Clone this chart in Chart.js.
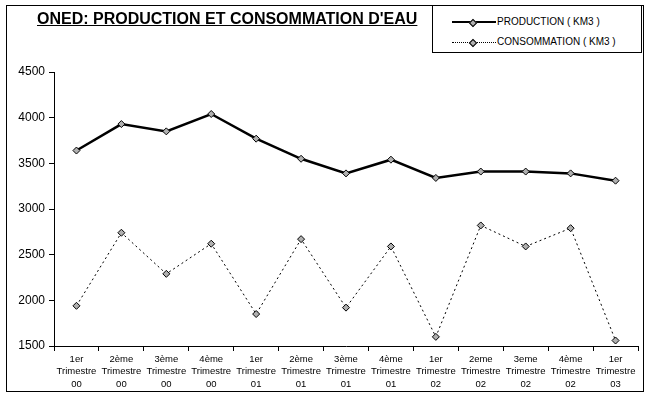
<!DOCTYPE html>
<html>
<head>
<meta charset="utf-8">
<script src="https://cdn.jsdelivr.net/npm/chart.js@4/dist/chart.umd.min.js"></script>
<style>
  html, body { margin: 0; padding: 0; background: #fff; }
  body { width: 649px; height: 396px; position: relative; overflow: hidden;
         font-family: 'Liberation Sans', Arial, sans-serif; }
  #frame { position: absolute; left: 6px; top: 5px; width: 636px; height: 385px; border: 1px solid #000; }
  #title { position: absolute; left: 37px; top: 10px; font-size: 16px; font-weight: bold;
           text-decoration: underline; white-space: nowrap; }
  #legend { position: absolute; left: 432px; top: 5px; width: 208px; height: 46px;
            border: 1px solid #000; background: #fff; font-size: 10px; }
  .row { position: absolute; left: 19px; height: 12px; white-space: nowrap; }
  .row span.txt { position: absolute; left: 45px; top: 0; line-height: 12px; }
  .sample { position: absolute; left: 0; top: 6px; width: 44px; }
  .sample.solid { border-top: 2px solid #000; top: 5px; }
  .sample.dotted { border-top: 1px dotted #000; }
  .mk { position: absolute; left: 18px; top: 4px; width: 4px; height: 4px; background: #b0b0b0;
        border: 1px solid #000; transform: rotate(45deg); }
  #wrap { position: absolute; left: 0; top: 0; width: 649px; height: 396px; }
</style>
</head>
<body>
<div id="frame"></div>
<div id="wrap"><canvas id="chart" width="649" height="396"></canvas></div>
<div id="title">ONED: PRODUCTION ET CONSOMMATION D'EAU</div>
<div id="legend">
  <div class="row" style="top:10px"><div class="sample solid"></div><div class="mk"></div><span class="txt">PRODUCTION ( KM3 )</span></div>
  <div class="row" style="top:30px"><div class="sample dotted"></div><div class="mk"></div><span class="txt">CONSOMMATION ( KM3 )</span></div>
</div>
<script>
// ── DATA ──
const QUARTERS = [
  ['1er', 'Trimestre', '00'], ['2ème', 'Trimestre', '00'], ['3ème', 'Trimestre', '00'], ['4ème', 'Trimestre', '00'],
  ['1er', 'Trimestre', '01'], ['2ème', 'Trimestre', '01'], ['3ème', 'Trimestre', '01'], ['4ème', 'Trimestre', '01'],
  ['1er', 'Trimestre', '02'], ['2eme', 'Trimestre', '02'], ['3eme', 'Trimestre', '02'], ['4ème', 'Trimestre', '02'],
  ['1er', 'Trimestre', '03']
];
const PRODUCTION = [3640, 3930, 3850, 4040, 3770, 3550, 3390, 3540, 3340, 3410, 3410, 3390, 3310];
const CONSOMMATION = [1940, 2740, 2290, 2620, 1850, 2670, 1920, 2590, 1600, 2820, 2590, 2790, 1560];
const Y_MIN = 1500, Y_MAX = 4500, Y_STEP = 500;

const FONT = "'Liberation Sans', Arial, sans-serif";

const marker = {
  pointStyle: 'rectRot',
  pointRadius: 3.5,
  pointBackgroundColor: '#b0b0b0',
  pointBorderColor: '#000',
  pointBorderWidth: 1,
};

new Chart(document.getElementById('chart'), {
  type: 'line',
  data: {
    labels: QUARTERS,
    datasets: [
      { label: 'PRODUCTION ( KM3 )', data: PRODUCTION, borderColor: '#000', borderWidth: 2.5, tension: 0, ...marker },
      { label: 'CONSOMMATION ( KM3 )', data: CONSOMMATION, borderColor: '#000', borderWidth: 1, borderDash: [2, 3], tension: 0, ...marker },
    ]
  },
  options: {
    responsive: false,
    animation: false,
    layout: { padding: { top: 72, right: 11, bottom: 0, left: 0 } },
    plugins: { legend: { display: false }, tooltip: { enabled: false } },
    scales: {
      x: {
        offset: true,
        grid: { drawOnChartArea: false, offset: true, tickLength: 5, color: '#000' },
        border: { color: '#000', width: 1 },
        ticks: { color: '#000', font: { family: FONT, size: 9.5, lineHeight: 1.3 }, maxRotation: 0, autoSkip: false, padding: 2 },
        afterFit: s => { s.height = 50; }
      },
      y: {
        min: Y_MIN, max: Y_MAX,
        grid: { drawOnChartArea: false, tickLength: 5, color: '#000' },
        border: { color: '#000', width: 1 },
        ticks: { stepSize: Y_STEP, color: '#000', font: { family: FONT, size: 12 }, padding: 4,
                 callback: v => String(v) },
        afterFit: s => { s.width = 54; }
      }
    }
  }
});
</script>
</body>
</html>
